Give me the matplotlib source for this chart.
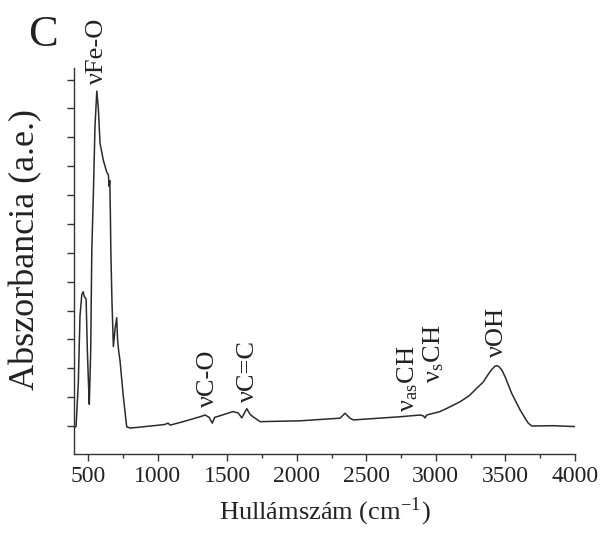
import matplotlib
matplotlib.use("Agg")
import matplotlib.pyplot as plt
from matplotlib.ticker import MultipleLocator, NullFormatter

# ---- data ----
wavenumber = [405, 414, 430, 442, 455, 465, 472, 478, 486, 495, 503, 509, 519, 527, 538, 550,
              563, 574, 586, 610, 634, 646, 652, 656, 660, 664, 672, 682, 695, 706, 712, 720,
              730, 754, 770, 778, 802, 850, 950, 1050, 1075, 1090, 1183, 1305, 1341, 1370,
              1393, 1410, 1425, 1542, 1580, 1605, 1641, 1665, 1686, 1736, 2024, 2311, 2347,
              2383, 2407, 2742, 2886, 2910, 2922, 2934, 3030, 3100, 3174, 3240, 3294, 3340,
              3365, 3400, 3425, 3440, 3455, 3475, 3497, 3545, 3605, 3640, 3664, 3689, 3842, 4000]
absorbance = [-0.05, 0.0, 1.5, 3.8, 4.55, 4.65, 4.5, 4.45, 4.4, 2.6, 1.5, 0.75, 2.6, 6.1, 8.0, 10.4,
              11.6, 11.0, 9.8, 9.2, 8.8, 8.7, 8.3, 8.5, 7.5, 6.0, 4.3, 2.75, 3.4, 3.75, 3.0, 2.6,
              2.25, 1.0, 0.3, -0.03, -0.07, -0.05, 0.0, 0.05, 0.1, 0.03, 0.15, 0.32, 0.38, 0.3,
              0.1, 0.3, 0.32, 0.5, 0.45, 0.28, 0.6, 0.4, 0.32, 0.15, 0.18, 0.27, 0.44,
              0.27, 0.21, 0.32, 0.38, 0.35, 0.28, 0.38, 0.5, 0.66, 0.84, 1.05, 1.31, 1.52,
              1.71, 1.95, 2.07, 2.09, 2.05, 1.93, 1.71, 1.13, 0.56, 0.28, 0.1, 0.0, 0.01, -0.02]

x_ticks = [500, 1000, 1500, 2000, 2500, 3000, 3500, 4000]
x_tick_labels = ["500", "1000", "1500", "2000", "2500", "3000", "3500", "4000"]

band_labels = ["νFe-O", "νC-O", "νC=C", r"ν$_{\mathregular{as}}$CH", r"ν$_{\mathregular{s}}$CH", "νOH"]
band_x = [565, 1359, 1650, 2795, 2985, 3437]
band_y = [11.84, 0.67, 0.84, 0.5, 1.5, 2.4]

plt.rcParams['font.family'] = ['Liberation Serif', 'DejaVu Serif']
plt.rcParams['mathtext.fontset'] = 'stix'

fig = plt.figure(figsize=(6.03, 5.43), dpi=100)
ax = fig.add_axes([74/603, 1-454/543, (575-74)/603, (454-68)/543])

ax.plot(wavenumber, absorbance, color='#2b2b2b', lw=1.1)

ax.set_xlim(399, 4000)
ax.set_ylim(-0.97, 12.4)

ax.spines['top'].set_visible(False)
ax.spines['right'].set_visible(False)
for s in ('left', 'bottom'):
    ax.spines[s].set_color('#333333')
    ax.spines[s].set_linewidth(1.0)

ax.set_xticks(x_ticks)
ax.set_xticklabels(x_tick_labels)
ax.xaxis.set_minor_locator(MultipleLocator(250))
ax.yaxis.set_major_locator(MultipleLocator(1))
ax.yaxis.set_major_formatter(NullFormatter())
ax.tick_params(axis='x', which='major', length=5, width=1, color='#333333',
               labelsize=17, pad=4, labelcolor='#222222')
ax.tick_params(axis='x', which='minor', length=3, width=1, color='#333333')
ax.tick_params(axis='y', which='major', length=5, width=1, color='#333333')

ax.set_xlabel(r"Hullámszám (cm$^{\mathregular{-1}}$)", fontsize=19, color='#222222', labelpad=6)
ax.set_ylabel("Abszorbancia (a.e.)", fontsize=26, color='#222222')
ax.yaxis.set_label_coords((42 - 74) / 501, (454 - 250) / 386)

for lab, bx, by in zip(band_labels, band_x, band_y):
    ax.text(bx, by, lab, rotation=90, ha='center', va='bottom', fontsize=19,
            color='#222222', clip_on=False)

fig.text(43/603, 1-35/543, "C", fontsize=32, ha='center', va='center', color='#222222')

fig.savefig("out.png", dpi=100)
